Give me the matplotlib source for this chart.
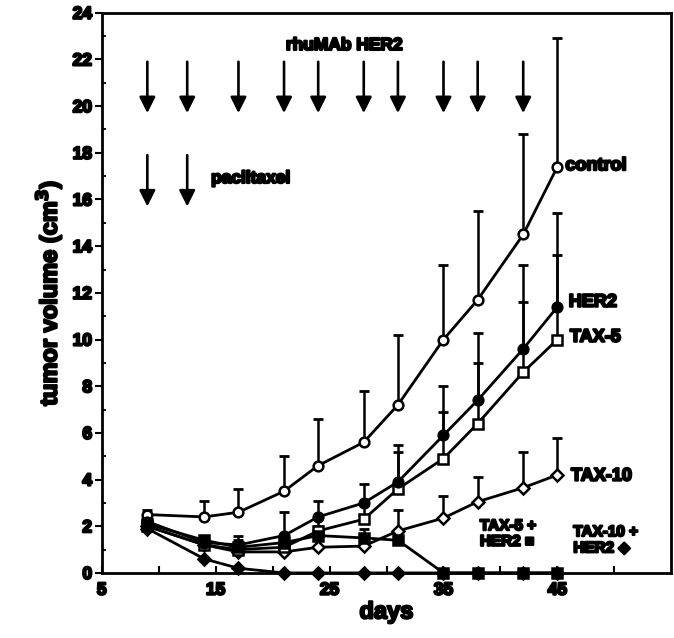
import numpy as np
import matplotlib
matplotlib.use("Agg")
import matplotlib.pyplot as plt
import matplotlib.patheffects as pe
from matplotlib.ticker import MultipleLocator, FixedLocator

# Measurement days and mean tumor volumes (cm^3) per treatment group
days = [9, 14, 17, 21, 24, 28, 31, 35, 38, 42, 45]

control = [2.5, 2.4, 2.6, 3.5, 4.6, 5.6, 7.2, 10.0, 11.7, 14.5, 17.4]
control_err = [0.2, 0.7, 1.0, 1.5, 2.0, 2.2, 3.0, 3.2, 3.8, 4.3, 5.5]

her2 = [2.2, 1.3, 1.2, 1.6, 2.4, 3.0, 3.9, 5.9, 7.4, 9.6, 11.4]
her2_err = [0.3, 0.3, 0.4, 1.0, 0.7, 0.8, 1.6, 2.1, 2.9, 3.6, 4.0]

tax5 = [2.0, 1.2, 1.0, 1.1, 1.8, 2.3, 3.6, 4.9, 6.4, 8.6, 10.0]
tax5_err = [0.2, 0.3, 0.3, 0.5, 0.6, 0.6, 1.6, 2.0, 2.6, 3.0, 3.6]

tax10 = [2.0, 1.2, 0.9, 0.9, 1.1, 1.15, 1.8, 2.35, 3.05, 3.65, 4.2]
tax10_err = [0.2, 0.3, 0.3, 0.4, 0.5, 0.5, 0.9, 0.95, 1.05, 1.55, 1.6]

tax5_her2 = [2.1, 1.4, 1.1, 1.3, 1.6, 1.5, 1.4, 0.0, 0.0, 0.0, 0.0]
tax5_her2_err = [0.2, 0.2, 0.3, 0.3, 0.4, 0.4, 0.4, 0.0, 0.0, 0.0, 0.0]

tax10_her2 = [1.9, 0.6, 0.2, 0.0, 0.0, 0.0, 0.0, 0.0, 0.0, 0.0, 0.0]

# Dosing schedules (days)
her2_doses = [9, 12.5, 17, 21, 24, 28, 31, 35, 38, 42]
paclitaxel_doses = [9, 12.5]

FONT = ["Liberation Sans", "DejaVu Sans"]
heavy = [pe.withStroke(linewidth=1.6, foreground="black")]

fig = plt.figure(figsize=(6.74, 6.38), dpi=100)
ax = fig.add_axes([0.151, 0.102, 0.845, 0.878])

def draw(y, err, marker, face, ms=7):
    if err is not None:
        ax.errorbar(days, y, yerr=[np.zeros(len(err)), err], fmt="none",
                    ecolor="black", elinewidth=1.8, capsize=3.5,
                    capthick=2.0, zorder=2, clip_on=False)
    ax.plot(days, y, color="black", lw=2.0, marker=marker, ms=ms,
            mfc=face, mec="black", mew=1.8, zorder=3, clip_on=False)

draw(control, control_err, "o", "white")
draw(tax10, tax10_err, "D", "white", 6.5)
draw(tax5, tax5_err, "s", "white", 6.5)
draw(her2, her2_err, "o", "black")
draw(tax5_her2, tax5_her2_err, "s", "black", 6.5)
draw(tax10_her2, None, "D", "black", 6.5)

ax.set_xlim(5, 55)
ax.set_ylim(0, 24)

ax.xaxis.set_major_locator(FixedLocator([5, 15, 25, 35, 45]))
ax.xaxis.set_minor_locator(FixedLocator([10, 20, 30, 40, 50]))
ax.yaxis.set_major_locator(MultipleLocator(2))
ax.yaxis.set_minor_locator(MultipleLocator(1))
ax.tick_params(axis="x", which="both", direction="in", length=5, width=1.5,
               pad=7)
ax.tick_params(axis="y", which="major", direction="out", length=5, width=1.5,
               pad=2)
ax.tick_params(axis="y", which="minor", direction="in", length=3, width=1.3)
for s in ax.spines.values():
    s.set_linewidth(2.0)

for lab in ax.get_xticklabels() + ax.get_yticklabels():
    lab.set_fontfamily(FONT)
    lab.set_fontweight("bold")
    lab.set_fontsize(12.5)
    lab.set_path_effects(heavy)

ax.set_xlabel("days", fontfamily=FONT, fontweight="bold", fontsize=17,
              labelpad=2, path_effects=heavy)
ax.set_ylabel("tumor volume (cm$^\\mathbf{3}$)", fontfamily=FONT,
              fontweight="bold", fontsize=17, labelpad=6, path_effects=heavy)

# Dosing arrows
for d in her2_doses:
    ax.annotate("", xy=(d, 19.7), xytext=(d, 21.9),
                arrowprops=dict(arrowstyle="-|>", lw=1.9, color="black",
                                mutation_scale=24, shrinkA=0, shrinkB=0))
for d in paclitaxel_doses:
    ax.annotate("", xy=(d, 15.7), xytext=(d, 17.9),
                arrowprops=dict(arrowstyle="-|>", lw=1.9, color="black",
                                mutation_scale=24, shrinkA=0, shrinkB=0))

txt = dict(fontfamily=FONT, fontweight="bold", color="black",
           path_effects=heavy)
ax.text(26.3, 22.6, "rhuMAb HER2", ha="center", va="center", fontsize=12.5, **txt)
ax.text(14.6, 16.9, "paclitaxel", ha="left", va="center", fontsize=12.5, **txt)

ax.text(45.7, 17.45, "control", ha="left", va="center", fontsize=13, **txt)
ax.text(46.0, 11.6, "HER2", ha="left", va="center", fontsize=13, **txt)
ax.text(46.1, 10.1, "TAX-5", ha="left", va="center", fontsize=13, **txt)
ax.text(46.2, 4.15, "TAX-10", ha="left", va="center", fontsize=13, **txt)
ax.text(38.2, 1.67, "TAX-5 +\nHER2 \u25a0", ha="left", va="center",
        fontsize=11, linespacing=1.15, **txt)
ax.text(46.4, 1.4, "TAX-10 +\nHER2 \u25c6", ha="left", va="center",
        fontsize=11, linespacing=1.2, **txt)

fig.savefig("out.png", dpi=100)
